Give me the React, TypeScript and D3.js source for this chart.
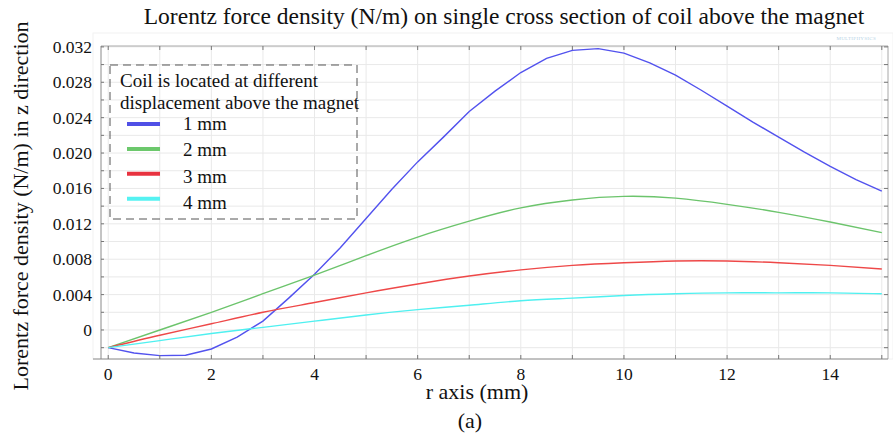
import * as d3 from 'd3';
import React from 'react';

// r positions (mm)
const rHalf = [0, 0.5, 1, 1.5, 2, 2.5, 3, 3.5, 4, 4.5, 5, 5.5, 6, 6.5, 7, 7.5, 8, 8.5, 9, 9.5, 10, 10.5, 11, 11.5, 12, 12.5, 13, 13.5, 14, 14.5, 15];
const rInt = [0, 1, 2, 3, 4, 5, 6, 7, 8, 9, 10, 11, 12, 13, 14, 15];

// Lorentz force density (N/m) per coil displacement
const force1mm = [-0.0020, -0.0026, -0.0029, -0.00285, -0.00215, -0.0008, 0.0010, 0.0036, 0.0063, 0.0093, 0.0126, 0.0159, 0.0190, 0.0218, 0.0247, 0.0270, 0.0291, 0.0307, 0.0316, 0.0318, 0.0313, 0.0302, 0.0288, 0.0271, 0.0253, 0.0235, 0.0218, 0.0201, 0.0185, 0.0170, 0.0157];
const force2mm = [-0.0020, 0.0000, 0.0020, 0.0041, 0.0062, 0.0084, 0.0105, 0.0123, 0.0138, 0.0147, 0.0151, 0.0149, 0.0142, 0.0133, 0.0122, 0.0110];
const force3mm = [-0.0020, -0.0006, 0.0007, 0.0020, 0.0031, 0.0042, 0.0052, 0.0061, 0.0068, 0.0073, 0.0076, 0.0078, 0.0078, 0.0076, 0.0073, 0.0069];
const force4mm = [-0.0020, -0.0012, -0.0004, 0.0003, 0.0010, 0.0017, 0.0023, 0.0028, 0.0033, 0.0036, 0.0039, 0.0041, 0.0042, 0.0042, 0.0042, 0.0041];

const legendLabels = ['1 mm', '2 mm', '3 mm', '4 mm'];
const lineColors = ['#5252ee', '#6cc46c', '#ee4848', '#4ff0f0'];
const swatchColors = ['#5050e6', '#6cc86c', '#e8323f', '#55f2f2'];

const xTicks = [0, 2, 4, 6, 8, 10, 12, 14];
const yTicks = [0, 0.004, 0.008, 0.012, 0.016, 0.020, 0.024, 0.028, 0.032];

const title = 'Lorentz force density (N/m) on single cross section of coil above the magnet';
const yTitle = 'Lorentz force density (N/m) in z direction';
const xTitle = 'r axis (mm)';
const legendTitle = ['Coil is located at different', 'displacement above the magnet'];

const W = 893;
const H = 439;
const FONT = '"Liberation Serif", "Times New Roman", serif';

export default function App() {
  const plot = { left: 101, right: 888, top: 46, bottom: 359 };
  const x = d3.scaleLinear().domain([-0.14, 15.12]).range([plot.left, plot.right]);
  const y = d3.scaleLinear().domain([-0.00328, 0.0321]).range([plot.bottom, plot.top]);

  const series = [
    { xs: rHalf, ys: force1mm },
    { xs: rInt, ys: force2mm },
    { xs: rInt, ys: force3mm },
    { xs: rInt, ys: force4mm },
  ];

  const straight = d3.line<[number, number]>().x(d => x(d[0])).y(d => y(d[1]));
  const smooth = d3.line<[number, number]>().x(d => x(d[0])).y(d => y(d[1])).curve(d3.curveNatural);

  const gridX = d3.range(0, 16, 1);
  const gridY = d3.range(-0.002, 0.0321, 0.002);

  return (
    <svg width={W} height={H} style={{ position: 'absolute', left: 0, top: 0, background: '#fff' }}
      fontFamily={FONT}>
      <text x={504} y={24} fontSize={23.5} textAnchor="middle" fill="#111">{title}</text>

      {/* faint outer frame */}
      <rect x={93} y={33} width={W - 93} height={plot.bottom - 33} fill="none" stroke="#f2f2f2" />
      <text x={876} y={40} fontSize={5} textAnchor="end" fill="#b9d3e6" letterSpacing={0.3}>MULTIPHYSICS</text>

      {/* grid */}
      <g stroke="#e9e9e9" strokeWidth={1}>
        {gridX.map(v => (
          <line key={'gx' + v} x1={x(v)} x2={x(v)} y1={plot.top} y2={plot.bottom} />
        ))}
        {gridY.map((v, i) => (
          <line key={'gy' + i} x1={plot.left} x2={plot.right} y1={y(v)} y2={y(v)} />
        ))}
      </g>

      {/* curves */}
      <g fill="none" strokeWidth={1.4}>
        {series.map((s, i) => {
          const pts = s.xs.map((v, j) => [v, s.ys[j]] as [number, number]);
          return <path key={i} d={(i === 0 ? straight : smooth)(pts) || ''} stroke={lineColors[i]} />;
        })}
      </g>

      {/* frame */}
      <line x1={plot.left} x2={plot.right} y1={plot.top} y2={plot.top} stroke="#a8a8a8" />
      <line x1={plot.right} x2={plot.right} y1={plot.top} y2={plot.bottom} stroke="#a8a8a8" />
      <line x1={plot.left} x2={plot.left} y1={plot.top} y2={plot.bottom} stroke="#8a8a8a" />
      <line x1={93} x2={plot.right} y1={plot.bottom} y2={plot.bottom} stroke="#8a8a8a" />

      {/* tick marks */}
      <g stroke="#777" strokeWidth={1}>
        {gridX.map(v => (
          <g key={'tx' + v}>
            <line x1={x(v)} x2={x(v)} y1={plot.bottom} y2={plot.bottom - 4} />
            <line x1={x(v)} x2={x(v)} y1={plot.top} y2={plot.top + 4} />
          </g>
        ))}
        {gridY.map((v, i) => (
          <g key={'ty' + i}>
            <line x1={plot.left} x2={plot.left + 3} y1={y(v)} y2={y(v)} />
            <line x1={plot.right} x2={plot.right - 4} y1={y(v)} y2={y(v)} />
          </g>
        ))}
      </g>

      {/* tick labels */}
      <g fontSize={17.5} fill="#111">
        {xTicks.map(v => (
          <text key={'lx' + v} x={x(v)} y={380} textAnchor="middle">{v}</text>
        ))}
        {yTicks.map(v => (
          <text key={'ly' + v} x={92} y={y(v) + 6} textAnchor="end">{v === 0 ? '0' : v.toFixed(3)}</text>
        ))}
      </g>

      {/* axis titles */}
      <text x={477} y={399} fontSize={22} textAnchor="middle" fill="#111">{xTitle}</text>
      <text x={470} y={428} fontSize={22} textAnchor="middle" fill="#111">(a)</text>
      <text transform={`translate(28,206) rotate(-90)`} fontSize={22} textAnchor="middle" fill="#111">{yTitle}</text>

      {/* legend */}
      <rect x={110} y={65} width={247} height={154} fill="none" stroke="#555" strokeWidth={1} strokeDasharray="8,5" />
      <g fontSize={19} fill="#111">
        {legendTitle.map((t, i) => (
          <text key={'lt' + i} x={120} y={87 + i * 21.5}>{t}</text>
        ))}
        {legendLabels.map((lab, i) => (
          <g key={lab}>
            <line x1={127} x2={160} y1={124 + i * 24.9} y2={124 + i * 24.9} stroke={swatchColors[i]} strokeWidth={4} />
            <text x={183} y={130 + i * 26.4}>{lab}</text>
          </g>
        ))}
      </g>
    </svg>
  );
}
